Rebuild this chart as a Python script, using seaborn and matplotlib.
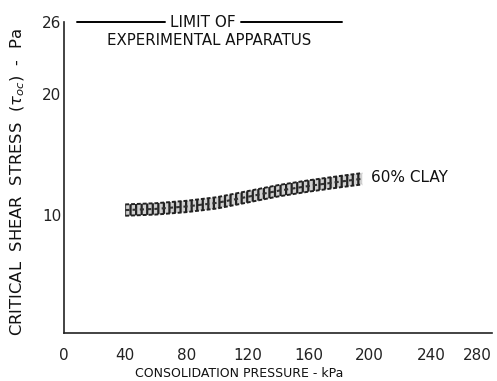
import matplotlib
matplotlib.use("Agg")
import matplotlib.pyplot as plt
import seaborn as sns
import numpy as np
import pandas as pd

# Data
pressure = [40, 60, 80, 100, 120, 140, 160, 180, 195]
stress_center = [10.4, 10.5, 10.7, 11.0, 11.5, 12.0, 12.4, 12.75, 13.0]
band_half = 0.47
x_ticks = [0, 40, 80, 120, 160, 200, 240, 280]
y_ticks = [10, 20, 26]
limit_value = 26

sns.set_theme(style="white")
plt.rcParams['font.family'] = ['DejaVu Sans']

df = pd.DataFrame({"pressure": pressure, "stress": stress_center})

fig = plt.figure(figsize=(4.97, 3.81), dpi=100)
ax = fig.add_axes([0.129, 0.126, 0.861, 0.816])

lower = np.array(stress_center) - band_half
upper = np.array(stress_center) + band_half
plt.rcParams['hatch.color'] = '#222222'
plt.rcParams['hatch.linewidth'] = 1.6
ax.fill_between(pressure, lower, upper, facecolor='#d0d0d0', edgecolor='#222222',
                hatch='|||', linewidth=0)
sns.lineplot(data=df, x="pressure", y="stress", ax=ax, color='#333333',
             linestyle=(0, (2, 1.5)), linewidth=1.5)
ax.plot(pressure, upper, color='#222222', linestyle=(0, (2, 1)), linewidth=1.4)
ax.plot(pressure, lower, color='#222222', linestyle=(0, (2, 1)), linewidth=1.4)

# limit line
ax.plot([8.5, 66], [limit_value, limit_value], color='black', lw=1.4, clip_on=False)
ax.plot([116, 182], [limit_value, limit_value], color='black', lw=1.4, clip_on=False)
ax.text(91, limit_value, "LIMIT OF", ha='center', va='center', fontsize=11,
        color='#111111')
ax.text(95, limit_value - 1.5, "EXPERIMENTAL APPARATUS", ha='center', va='center',
        fontsize=10.8, color='#111111')
ax.text(201, 13.1, "60% CLAY", ha='left', va='center', fontsize=11, color='#111111')

ax.set_xlim(0, 280)
ax.set_ylim(0.2, 26)
ax.set_xticks(x_ticks)
ax.set_xticklabels([str(v) for v in x_ticks])
ax.set_yticks(y_ticks)
ax.set_yticklabels([str(v) for v in y_ticks])
ax.tick_params(direction='in', length=6, width=1, colors='#222222', labelsize=11)
ax.tick_params(axis='x', pad=11)
ax.tick_params(axis='y', length=7, pad=2)
xl = ax.get_xticklabels()
xl[-1].set_horizontalalignment('right')
for s in ['top', 'right']:
    ax.spines[s].set_visible(False)
for s in ['left', 'bottom']:
    ax.spines[s].set_color('#222222')
    ax.spines[s].set_linewidth(1.2)

ax.set_xlabel("CONSOLIDATION PRESSURE - kPa", fontsize=9,
              family=['DejaVu Sans'], color='#111111')
ax.xaxis.set_label_coords(0.409, -0.11)
ax.set_ylabel(r"CRITICAL  SHEAR  STRESS  ($\tau_{oc}$)  -  Pa", fontsize=11.8,
              color='#111111')
ax.yaxis.set_label_coords(-0.086, 0.486)

fig.savefig("out.png", dpi=100)
